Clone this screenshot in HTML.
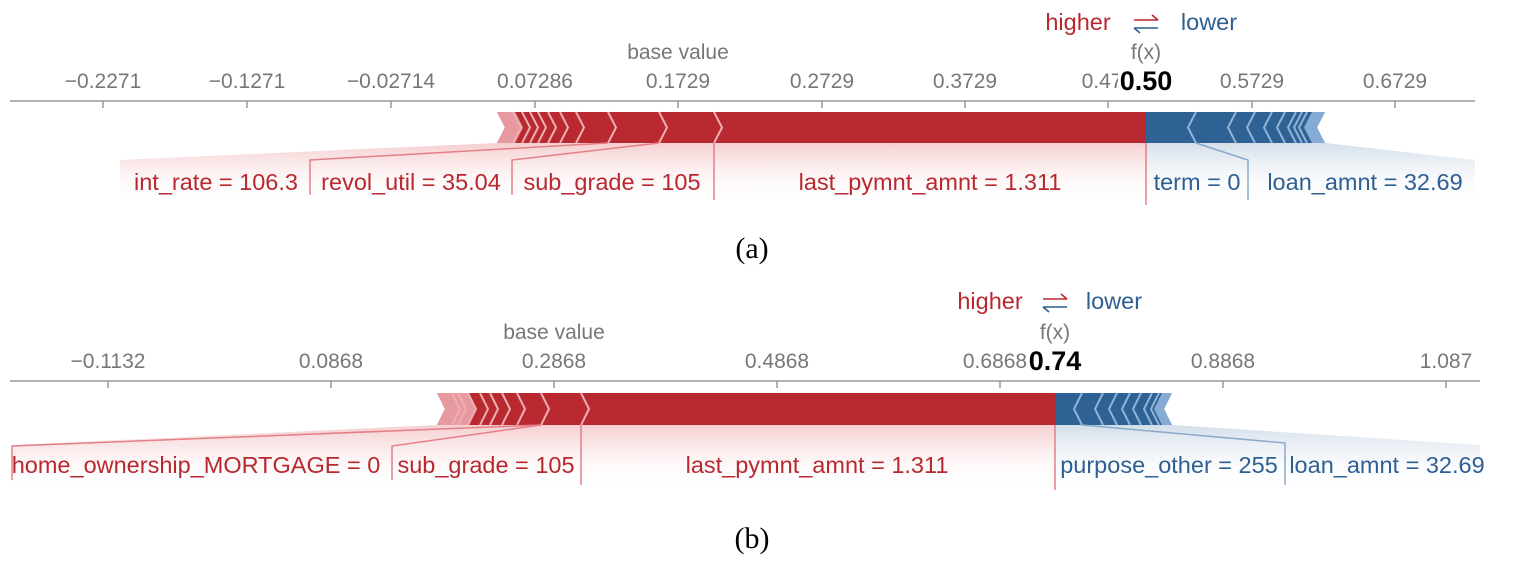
<!DOCTYPE html>
<html><head><meta charset="utf-8"><style>
html,body{margin:0;padding:0;background:#fff;width:1515px;height:566px;overflow:hidden}
svg{display:block}
text{font-family:"Liberation Sans","DejaVu Sans",sans-serif}
.t{fill:#777;font-size:21px;text-anchor:middle}
.r{fill:#b8282f;font-size:23.5px}
.b{fill:#2e5f92;font-size:23.5px}
.cap{font-family:"Liberation Serif",serif;font-size:30px;fill:#000;text-anchor:middle}
</style></head><body>
<svg width="1515" height="566" viewBox="0 0 1515 566">
<defs>
<linearGradient id="rg" x1="0" y1="0" x2="0" y2="1"><stop offset="0" stop-color="#f4c9cb" stop-opacity="0.9"/><stop offset="1" stop-color="#fff" stop-opacity="0"/></linearGradient>
<linearGradient id="bg" x1="0" y1="0" x2="0" y2="1"><stop offset="0" stop-color="#cfdbe8" stop-opacity="0.9"/><stop offset="1" stop-color="#fff" stop-opacity="0"/></linearGradient>
</defs>

<!-- ===== Panel A ===== -->
<text x="1078" y="30" class="r" font-size="25" text-anchor="middle">higher</text>
<text x="1209" y="30" class="b" font-size="25" text-anchor="middle">lower</text>
<path d="M1134 20 H1158 M1152 15 L1158 20" stroke="#b8282f" stroke-width="1.6" fill="none"/>
<path d="M1134 28 H1158 M1140 33 L1134 28" stroke="#2e5f92" stroke-width="1.6" fill="none"/>
<text x="678" y="59" class="t" font-size="23">base value</text>
<text x="1146" y="59" class="t" font-size="23">f(x)</text>
<line x1="10" y1="101" x2="1475" y2="101" stroke="#999" stroke-width="1.5"/>
<g stroke="#999" stroke-width="1.5">
<line x1="103" y1="101" x2="103" y2="108"/><line x1="247" y1="101" x2="247" y2="108"/><line x1="391" y1="101" x2="391" y2="108"/><line x1="535" y1="101" x2="535" y2="108"/><line x1="678" y1="101" x2="678" y2="108"/><line x1="822" y1="101" x2="822" y2="108"/><line x1="965" y1="101" x2="965" y2="108"/><line x1="1108" y1="101" x2="1108" y2="108"/><line x1="1252" y1="101" x2="1252" y2="108"/><line x1="1395" y1="101" x2="1395" y2="108"/>
</g>
<text x="103" y="88" class="t">−0.2271</text><text x="247" y="88" class="t">−0.1271</text><text x="391" y="88" class="t">−0.02714</text><text x="535" y="88" class="t">0.07286</text><text x="678" y="88" class="t">0.1729</text><text x="822" y="88" class="t">0.2729</text><text x="965" y="88" class="t">0.3729</text><text x="1102" y="88" class="t">0.47</text>
<rect x="1118" y="68" width="56" height="26" fill="#fff"/>
<text x="1146" y="90" font-size="27" font-weight="bold" text-anchor="middle" fill="#000">0.50</text>
<text x="1252" y="88" class="t">0.5729</text><text x="1395" y="88" class="t">0.6729</text>
<polygon points="497,143 1146,143 1146,205 120,205 120,160" fill="url(#rg)"/>
<polygon points="1146,143 1325,143 1475,160 1475,205 1146,205" fill="url(#bg)"/>
<polygon points="497,112 1146,112 1146,143 497,143 505,127.5" fill="#b82a30"/>
<polygon points="497,112 515,112 523,127.5 515,143 497,143 505,127.5" fill="#e69a9f"/>
<g stroke="#eeaeb2" stroke-width="2" fill="none">
<polyline points="513,112 521,127.5 513,143"/><polyline points="522,112 530,127.5 522,143"/><polyline points="530,112 538,127.5 530,143"/><polyline points="538,112 546,127.5 538,143"/><polyline points="548,112 556,127.5 548,143"/><polyline points="560,112 568,127.5 560,143"/><polyline points="576,112 584,127.5 576,143"/><polyline points="608,112 616,127.5 608,143"/><polyline points="659,112 667,127.5 659,143"/><polyline points="714,112 722,127.5 714,143"/>
</g>
<polygon points="1146,112 1325,112 1317,127.5 1325,143 1146,143" fill="#2f6294"/>
<polygon points="1312,112 1325,112 1317,127.5 1325,143 1312,143 1304,127.5" fill="#86acd6"/>
<g stroke="#8fb2d8" stroke-width="2" fill="none">
<polyline points="1196,112 1188,127.5 1196,143"/><polyline points="1236,112 1228,127.5 1236,143"/><polyline points="1255,112 1247,127.5 1255,143"/><polyline points="1272,112 1264,127.5 1272,143"/><polyline points="1285,112 1277,127.5 1285,143"/><polyline points="1296,112 1288,127.5 1296,143"/><polyline points="1302,112 1294,127.5 1302,143"/><polyline points="1307,112 1299,127.5 1307,143"/>
</g>
<g stroke="#e57f86" stroke-width="1.5" fill="none">
<polyline points="310,195 310,160 608,143"/><polyline points="512,195 512,160 659,143"/><polyline points="714,200 714,143"/>
<line x1="1146" y1="143" x2="1146" y2="205"/>
</g>
<g stroke="#8aa9c9" stroke-width="1.5" fill="none"><polyline points="1196,143 1248,160 1248,200"/></g>
<text x="216" y="190" class="r" text-anchor="middle">int_rate = 106.3</text>
<text x="411" y="190" class="r" text-anchor="middle">revol_util = 35.04</text>
<text x="612" y="190" class="r" text-anchor="middle">sub_grade = 105</text>
<text x="930" y="190" class="r" text-anchor="middle">last_pymnt_amnt = 1.311</text>
<text x="1197" y="190" class="b" text-anchor="middle">term = 0</text>
<text x="1365" y="190" class="b" text-anchor="middle">loan_amnt = 32.69</text>
<text x="752" y="258" class="cap">(a)</text>

<!-- ===== Panel B ===== -->
<text x="990" y="309" class="r" font-size="25" text-anchor="middle">higher</text>
<text x="1114" y="309" class="b" font-size="25" text-anchor="middle">lower</text>
<path d="M1043 299 H1067 M1061 294 L1067 299" stroke="#b8282f" stroke-width="1.6" fill="none"/>
<path d="M1043 307 H1067 M1049 312 L1043 307" stroke="#2e5f92" stroke-width="1.6" fill="none"/>
<text x="554" y="339" class="t" font-size="23">base value</text>
<text x="1055" y="339" class="t" font-size="23">f(x)</text>
<line x1="10" y1="381" x2="1480" y2="381" stroke="#999" stroke-width="1.5"/>
<g stroke="#999" stroke-width="1.5">
<line x1="108" y1="381" x2="108" y2="388"/><line x1="331" y1="381" x2="331" y2="388"/><line x1="554" y1="381" x2="554" y2="388"/><line x1="777" y1="381" x2="777" y2="388"/><line x1="1000" y1="381" x2="1000" y2="388"/><line x1="1223" y1="381" x2="1223" y2="388"/><line x1="1446" y1="381" x2="1446" y2="388"/>
</g>
<text x="108" y="368" class="t">−0.1132</text><text x="331" y="368" class="t">0.0868</text><text x="554" y="368" class="t">0.2868</text><text x="777" y="368" class="t">0.4868</text><text x="995" y="368" class="t">0.6868</text>
<rect x="1028" y="347" width="54" height="26" fill="#fff"/>
<text x="1055" y="370" font-size="27" font-weight="bold" text-anchor="middle" fill="#000">0.74</text>
<text x="1223" y="368" class="t">0.8868</text><text x="1446" y="368" class="t">1.087</text>
<polygon points="437,425 1055,425 1055,490 12,490 12,445" fill="url(#rg)"/>
<polygon points="1055,425 1172,425 1480,445 1480,490 1055,490" fill="url(#bg)"/>
<polygon points="437,393 1055,393 1055,425 437,425 445,409" fill="#b82a30"/>
<polygon points="437,393 468,393 476,409 468,425 437,425 445,409" fill="#e69a9f"/>
<g stroke="#eeaeb2" stroke-width="2" fill="none">
<polyline points="452,393 460,409 452,425"/><polyline points="458,393 466,409 458,425"/><polyline points="468,393 476,409 468,425"/><polyline points="480,393 488,409 480,425"/><polyline points="490,393 498,409 490,425"/><polyline points="502,393 510,409 502,425"/><polyline points="517,393 525,409 517,425"/><polyline points="541,393 549,409 541,425"/><polyline points="581,393 589,409 581,425"/>
</g>
<polygon points="1055,393 1172,393 1164,409 1172,425 1055,425" fill="#2f6294"/>
<polygon points="1162,393 1172,393 1164,409 1172,425 1162,425 1154,409" fill="#86acd6"/>
<g stroke="#8fb2d8" stroke-width="2" fill="none">
<polyline points="1082,393 1074,409 1082,425"/><polyline points="1103,393 1095,409 1103,425"/><polyline points="1117,393 1109,409 1117,425"/><polyline points="1130,393 1122,409 1130,425"/><polyline points="1141,393 1133,409 1141,425"/><polyline points="1152,393 1144,409 1152,425"/><polyline points="1159,393 1151,409 1159,425"/>
</g>
<g stroke="#e57f86" stroke-width="1.5" fill="none">
<polyline points="12,480 12,446 541,425"/><polyline points="392,480 392,446 541,425"/><polyline points="581,485 581,425"/>
<line x1="1055" y1="425" x2="1055" y2="490"/>
</g>
<g stroke="#8aa9c9" stroke-width="1.5" fill="none"><polyline points="1082,425 1285,443 1285,485"/></g>
<text x="196" y="473" class="r" text-anchor="middle">home_ownership_MORTGAGE = 0</text>
<text x="486" y="473" class="r" text-anchor="middle">sub_grade = 105</text>
<text x="817" y="473" class="r" text-anchor="middle">last_pymnt_amnt = 1.311</text>
<text x="1169" y="473" class="b" text-anchor="middle">purpose_other = 255</text>
<text x="1387" y="473" class="b" text-anchor="middle">loan_amnt = 32.69</text>
<text x="752" y="548" class="cap">(b)</text>
</svg>
</body></html>
